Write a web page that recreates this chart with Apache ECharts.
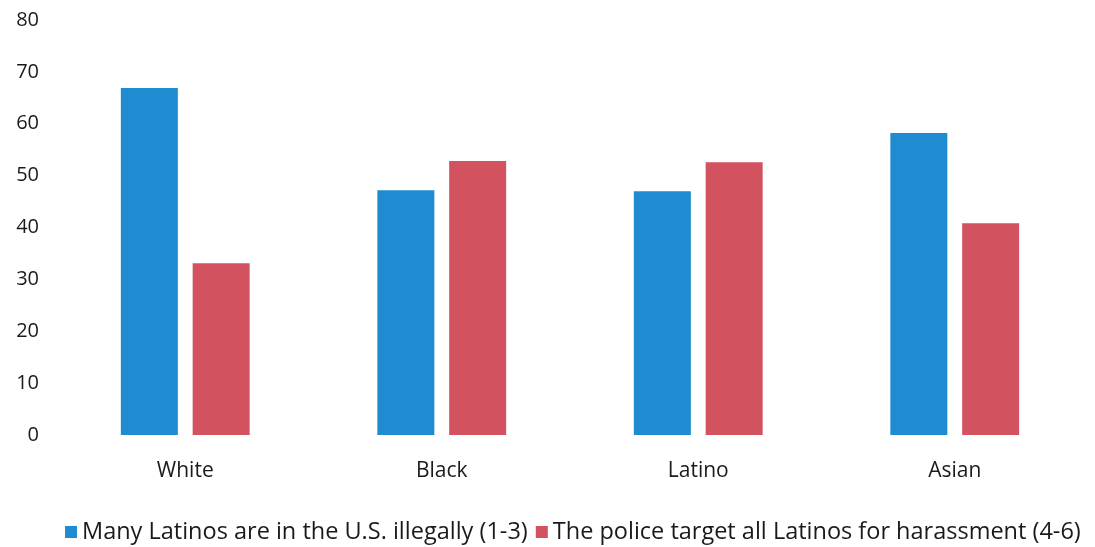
<!DOCTYPE html>
<html><head><meta charset="utf-8">
<script src="https://cdn.jsdelivr.net/npm/echarts@6/dist/echarts.min.js"></script>
<style>html,body{margin:0;padding:0;background:#fff}#c{width:1095px;height:547px}</style>
</head><body><div id="c"></div>
<script>
const categories = ['White', 'Black', 'Latino', 'Asian'];
const illegally = [66.9, 47.2, 47.0, 58.2];
const police = [33.1, 52.8, 52.6, 40.8];
const seriesNames = ['Many Latinos are in the U.S. illegally (1-3)', 'The police target all Latinos for harassment (4-6)'];
const FONT = "'Open Sans', sans-serif";
const chart = echarts.init(document.getElementById('c'));
chart.setOption({
  animation: false,
  textStyle: {fontFamily: FONT},
  grid: {left: 57, right: 12, top: 20, bottom: 112},
  legend: {
    bottom: -2, left: 60, itemWidth: 12, itemHeight: 12, itemGap: 8,
    icon: 'rect',
    textStyle: {fontSize: 23.5, color: '#1a1a1a', fontFamily: FONT},
    data: seriesNames
  },
  xAxis: {
    type: 'category', data: categories,
    axisLine: {show: false}, axisTick: {show: false},
    axisLabel: {fontSize: 21, color: '#1a1a1a', margin: 26, fontFamily: FONT}
  },
  yAxis: {
    type: 'value', min: 0, max: 80, interval: 10,
    splitLine: {show: false}, axisLine: {show: false}, axisTick: {show: false},
    axisLabel: {fontSize: 20, color: '#1a1a1a', margin: 18, fontFamily: FONT}
  },
  series: [
    {name: seriesNames[0], type: 'bar', data: illegally, barWidth: 57, barGap: '26%', itemStyle: {color: '#1f8bd0'}},
    {name: seriesNames[1], type: 'bar', data: police, barWidth: 57, itemStyle: {color: '#d2525f'}}
  ]
});
</script></body></html>
